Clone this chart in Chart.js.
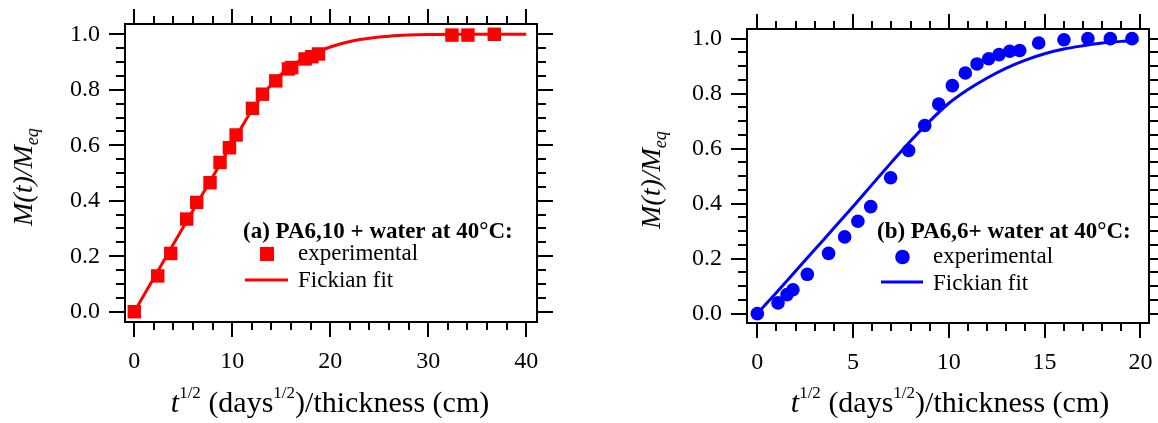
<!DOCTYPE html>
<html>
<head>
<meta charset="utf-8">
<script src="https://cdn.jsdelivr.net/npm/chart.js@4.4.0/dist/chart.umd.min.js"></script>
<style>
  body { margin: 0; background: #fff; width: 1158px; height: 423px; overflow: hidden; position: relative;
         font-family: "Liberation Serif", "Times New Roman", serif; color: #000; }
  canvas { position: absolute; top: 0; }
  #chartA { left: 0; }
  #chartB { left: 579px; }
  .xtitle { position: absolute; top: 387px; font-size: 30px; line-height: 30px; white-space: nowrap; transform: translateX(-50%); }
  .ytitle { position: absolute; font-size: 28px; line-height: 28px; white-space: nowrap; font-style: italic;
            transform: translate(-50%, -50%) rotate(-90deg); }
  sup { font-size: 17px; line-height: 0; position: relative; top: -0.85em; vertical-align: baseline; }
  sub { font-size: 18px; line-height: 0; position: relative; top: 0.35em; vertical-align: baseline; }
</style>
</head>
<body>
<canvas id="chartA" width="579" height="423"></canvas>
<canvas id="chartB" width="579" height="423"></canvas>

<div class="xtitle" style="left:330px"><i>t</i><sup>1/2</sup> (days<sup>1/2</sup>)/thickness (cm)</div>
<div class="xtitle" style="left:950px"><i>t</i><sup>1/2</sup> (days<sup>1/2</sup>)/thickness (cm)</div>
<div class="ytitle" style="left:23px; top:177px">M(t)/M<sub>eq</sub></div>
<div class="ytitle" style="left:651px; top:180px">M(t)/M<sub>eq</sub></div>

<script>
// (a) PA6,10 + water at 40°C
const expAX = [0, 2.39, 3.72, 5.35, 6.37, 7.73, 8.75, 9.71, 10.39, 12.06, 13.08, 14.44, 15.73, 16.07, 17.43, 18.12, 18.80, 32.42, 34.05, 36.74];
const expAY = [0, 0.129, 0.210, 0.334, 0.394, 0.465, 0.538, 0.591, 0.637, 0.733, 0.784, 0.832, 0.875, 0.880, 0.911, 0.919, 0.929, 0.997, 0.997, 1.0];
const fitAX = [0, 2, 4, 6, 8, 10, 11, 12, 13, 14, 15, 16, 17, 18, 19, 20, 21, 22, 23, 24, 26, 28, 30, 34, 40];
const fitAY = [0, 0.122, 0.244, 0.366, 0.486, 0.608, 0.668, 0.726, 0.776, 0.820, 0.856, 0.885, 0.907, 0.925, 0.941, 0.954, 0.965, 0.974, 0.981, 0.986, 0.993, 0.997, 0.999, 1.0, 1.0];

// (b) PA6,6 + water at 40°C
const expBX = [0, 1.08, 1.55, 1.86, 2.61, 3.72, 4.56, 5.25, 5.92, 6.96, 7.90, 8.74, 9.47, 10.18, 10.86, 11.47, 12.08, 12.62, 13.18, 13.70, 14.69, 16.01, 17.26, 18.43, 19.56];
const expBY = [0, 0.039, 0.069, 0.087, 0.143, 0.219, 0.279, 0.336, 0.389, 0.494, 0.593, 0.684, 0.762, 0.829, 0.875, 0.908, 0.927, 0.942, 0.954, 0.957, 0.984, 0.996, 1.0, 1.0, 1.0];
const fitBX = [0, 1, 2, 3, 4, 5, 6, 7, 8, 9, 10, 11, 12, 13, 14, 15, 16, 17, 18, 19, 19.9];
const fitBY = [0, 0.077, 0.155, 0.233, 0.311, 0.390, 0.470, 0.550, 0.628, 0.700, 0.765, 0.815, 0.857, 0.893, 0.922, 0.945, 0.962, 0.974, 0.984, 0.990, 0.993];

const xTicksA = [0, 10, 20, 30, 40];
const xTicksB = [0, 5, 10, 15, 20];
const yTicks = [0.0, 0.2, 0.4, 0.6, 0.8, 1.0];

const FONT = '"Liberation Serif", "Times New Roman", serif';

function pts(xs, ys) {
  return xs.map((x, i) => ({ x: x, y: ys[i] }));
}

// frame plus outward ticks on all four sides
const frameTicks = {
  id: 'frameTicks',
  afterDraw(chart, args, opts) {
    const ctx = chart.ctx;
    const a = chart.chartArea;
    const xs = chart.scales.x, ys = chart.scales.y;
    ctx.save();
    ctx.strokeStyle = '#000';
    ctx.lineWidth = 2;
    ctx.strokeRect(a.left, a.top, a.right - a.left, a.bottom - a.top);
    ctx.beginPath();
    for (let v = opts.xFrom; v <= opts.xTo + 1e-9; v += opts.xMinor) {
      const major = Math.abs(v / opts.xMajor - Math.round(v / opts.xMajor)) < 1e-6;
      const len = major ? 15 : 8;
      const px = Math.round(xs.getPixelForValue(v));
      ctx.moveTo(px, a.bottom); ctx.lineTo(px, a.bottom + len);
      ctx.moveTo(px, a.top); ctx.lineTo(px, a.top - len);
    }
    for (let v = 0; v <= 1 + 1e-9; v += 0.05) {
      const major = Math.abs(v / 0.2 - Math.round(v / 0.2)) < 1e-6;
      const len = major ? 16 : 9;
      const py = Math.round(ys.getPixelForValue(v));
      ctx.moveTo(a.left, py); ctx.lineTo(a.left - len, py);
      ctx.moveTo(a.right, py); ctx.lineTo(a.right + len, py);
    }
    ctx.stroke();
    ctx.restore();
  }
};

// legend block drawn inside the plot
const boxLegend = {
  id: 'boxLegend',
  afterDraw(chart, args, o) {
    const ctx = chart.ctx;
    const ds = chart.data.datasets;
    ctx.save();
    ctx.fillStyle = '#000';
    ctx.textBaseline = 'alphabetic';
    ctx.font = 'bold 23px ' + FONT;
    ctx.fillText(o.title, o.titleX, o.titleY);
    ctx.font = '23px ' + FONT;
    ctx.fillText(ds[0].label, o.textX, o.expY);
    ctx.fillText(ds[1].label, o.textX, o.fitY);
    // marker
    ctx.fillStyle = ds[0].backgroundColor;
    if (o.marker === 'rect') {
      ctx.fillRect(o.markX - 7, o.markYc - 7, 14, 14);
    } else {
      ctx.beginPath();
      ctx.arc(o.markX, o.markYc, 7.3, 0, Math.PI * 2);
      ctx.fill();
    }
    // line
    ctx.strokeStyle = ds[1].borderColor;
    ctx.lineWidth = 3;
    ctx.beginPath();
    ctx.moveTo(o.lineX0, o.lineY);
    ctx.lineTo(o.lineX1, o.lineY);
    ctx.stroke();
    ctx.restore();
  }
};

function makeChart(id, cfg) {
  return new Chart(document.getElementById(id), {
    type: 'scatter',
    data: {
      datasets: [
        {
          label: 'experimental',
          data: pts(cfg.expX, cfg.expY),
          pointStyle: cfg.marker,
          pointRadius: cfg.radius,
          pointHoverRadius: cfg.radius,
          backgroundColor: cfg.color,
          borderWidth: 0,
          showLine: false,
          order: 0
        },
        {
          label: 'Fickian fit',
          data: pts(cfg.fitX, cfg.fitY),
          showLine: true,
          pointRadius: 0,
          borderColor: cfg.color,
          borderWidth: 3,
          cubicInterpolationMode: 'monotone',
          order: 1
        }
      ]
    },
    options: {
      responsive: false,
      animation: false,
      devicePixelRatio: 1,
      layout: { padding: { left: 0, top: cfg.top, right: cfg.right, bottom: 0 } },
      plugins: {
        legend: { display: false },
        tooltip: { enabled: false },
        frameTicks: cfg.tickOpts,
        boxLegend: cfg.legend
      },
      scales: {
        x: {
          type: 'linear',
          min: cfg.xMin, max: cfg.xMax,
          grid: { display: false, drawTicks: false },
          border: { display: false },
          afterBuildTicks: s => { s.ticks = cfg.xTicks.map(v => ({ value: v })); },
          afterFit: s => { s.height = 423 - cfg.bottom; s.paddingLeft = 0; s.paddingRight = 0; },
          ticks: { color: '#000', font: { family: FONT, size: 24 }, padding: 25, maxRotation: 0, autoSkip: false }
        },
        y: {
          type: 'linear',
          min: cfg.yMin, max: cfg.yMax,
          grid: { display: false, drawTicks: false },
          border: { display: false },
          afterBuildTicks: s => { s.ticks = yTicks.map(v => ({ value: v })); },
          afterFit: s => { s.width = cfg.left; s.paddingTop = 0; s.paddingBottom = 0; },
          ticks: { color: '#000', font: { family: FONT, size: 24 }, padding: 25, autoSkip: false,
                   callback: v => Number(v).toFixed(1) }
        }
      }
    },
    plugins: [frameTicks, boxLegend]
  });
}

makeChart('chartA', {
  expX: expAX, expY: expAY, fitX: fitAX, fitY: fitAY,
  color: '#ff0000', marker: 'rect', radius: 9.5,
  xTicks: xTicksA, xMin: -0.95, xMax: 41.1, yMin: -0.037, yMax: 1.037,
  left: 125, top: 24, right: 42, bottom: 322,
  tickOpts: { xFrom: 0, xTo: 40, xMinor: 2, xMajor: 10 },
  legend: { title: '(a) PA6,10 + water at 40°C:', titleX: 243, titleY: 238,
            textX: 298, expY: 260, fitY: 287, marker: 'rect', markX: 267, markYc: 254,
            lineX0: 245, lineX1: 288, lineY: 280 }
});

makeChart('chartB', {
  expX: expBX, expY: expBY, fitX: fitBX, fitY: fitBY,
  color: '#0000ff', marker: 'circle', radius: 6.8,
  xTicks: xTicksB, xMin: -0.54, xMax: 20.45, yMin: -0.034, yMax: 1.035,
  left: 168, top: 29, right: 9, bottom: 323,
  tickOpts: { xFrom: 0, xTo: 20, xMinor: 1, xMajor: 5 },
  legend: { title: '(b) PA6,6+ water at 40°C:', titleX: 298, titleY: 238,
            textX: 354, expY: 263, fitY: 290, marker: 'circle', markX: 323.5, markYc: 257,
            lineX0: 302, lineX1: 344, lineY: 282 }
});
</script>
</body>
</html>
